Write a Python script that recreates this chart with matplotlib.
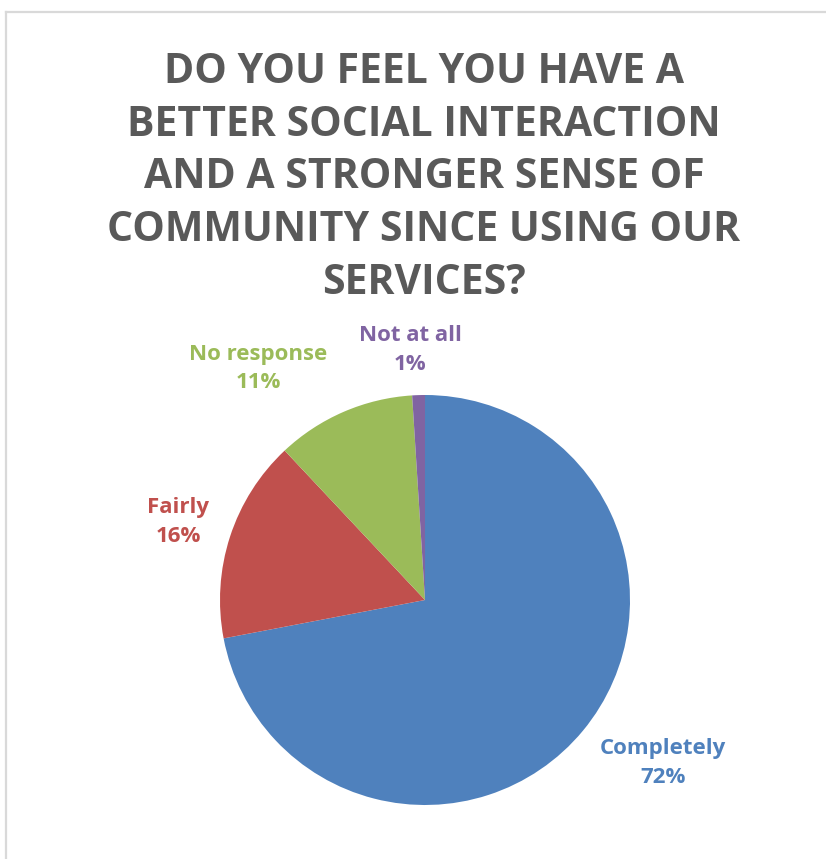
import matplotlib.pyplot as plt
from matplotlib.lines import Line2D

# survey answers
categories = ['Completely', 'Fairly', 'No response', 'Not at all']
shares = [72, 16, 11, 1]
colors = ['#4F81BD', '#C0504D', '#9BBB59', '#8064A2']
title = ('DO YOU FEEL YOU HAVE A\nBETTER SOCIAL INTERACTION\n'
         'AND A STRONGER SENSE OF\nCOMMUNITY SINCE USING OUR\nSERVICES?')

W, H = 826, 859
fig = plt.figure(figsize=(W / 100, H / 100), dpi=100)
fig.patch.set_facecolor('white')

# thin grey frame along top and left edge
fig.add_artist(Line2D([6 / W, 1], [1 - 12 / H, 1 - 12 / H], transform=fig.transFigure,
                      color='#d9d9d9', linewidth=1.6))
fig.add_artist(Line2D([6 / W, 6 / W], [0, 1 - 12 / H], transform=fig.transFigure,
                      color='#d9d9d9', linewidth=1.6))

fig.text(424 / W, 1 - 52 / H, title, ha='center', va='top', fontsize=29.5,
         fontweight='bold', family='Open Sans', color='#595959', linespacing=1.375)

cx, cy, r = 425, 600, 205
ax = fig.add_axes([(cx - r) / W, 1 - (cy + r) / H, 2 * r / W, 2 * r / H])
ax.pie(shares, colors=colors, startangle=90, counterclock=False,
       wedgeprops=dict(linewidth=0))
ax.set_xlim(-1, 1)
ax.set_ylim(-1, 1)
ax.axis('off')

label_pos = [(1.16, -0.795), (-1.205, 0.38), (-0.815, 1.13), (-0.073, 1.22)]
for name, v, c, (x, y) in zip(categories, shares, colors, label_pos):
    ax.text(x, y, f'{name}\n{v}%', ha='center', va='center', fontsize=16,
            fontweight='bold', family='Open Sans', color=c, linespacing=1.45)

fig.savefig('out.png', dpi=100)
